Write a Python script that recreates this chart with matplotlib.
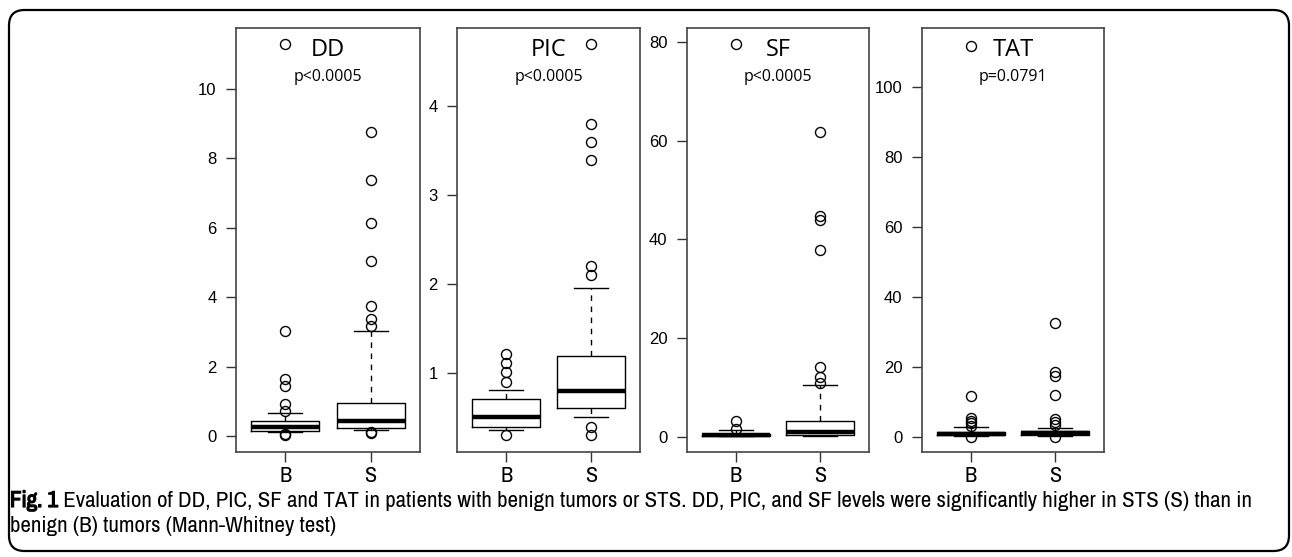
import matplotlib
matplotlib.use("Agg")
import matplotlib.pyplot as plt
from matplotlib import font_manager
from matplotlib import patheffects
from matplotlib.patches import FancyBboxPatch

# markers and groups
groups = ["B", "S"]
panels = ["DD", "PIC", "SF", "TAT"]
pvalues = ["p<0.0005", "p<0.0005", "p<0.0005", "p=0.0791"]

# box stats per panel: [whislo, q1, med, q3, whishi] for B and S
dd_b = [0.11, 0.15, 0.26, 0.43, 0.66]
dd_s = [0.17, 0.23, 0.43, 0.95, 3.03]
dd_b_out = [11.3, 3.03, 1.64, 1.45, 0.92, 0.72, 0.06, 0.03]
dd_s_out = [8.76, 7.38, 6.14, 5.04, 3.75, 3.37, 3.17, 0.12, 0.08]

pic_b = [0.36, 0.39, 0.51, 0.71, 0.81]
pic_s = [0.51, 0.61, 0.80, 1.19, 1.96]
pic_b_out = [1.21, 1.11, 1.01, 0.90, 0.30]
pic_s_out = [4.70, 3.80, 3.60, 3.39, 2.20, 2.10, 0.39, 0.30]

sf_b = [0.1, 0.2, 0.4, 0.6, 1.4]
sf_s = [0.2, 0.3, 1.0, 3.3, 10.6]
sf_b_out = [79.5, 3.25, 1.6]
sf_s_out = [61.7, 44.7, 43.9, 37.8, 14.2, 12.2, 11.0]

tat_b = [0.2, 0.5, 0.9, 1.4, 2.8]
tat_s = [0.3, 0.6, 1.2, 1.8, 2.6]
tat_b_out = [111.7, 11.7, 5.5, 4.7, 3.9, 3.2, 0.0]
tat_s_out = [32.6, 18.6, 17.4, 12.0, 5.1, 4.3, 3.4, 0.0]

ylims = [(-0.46, 11.76), (0.112, 4.876), (-3.05, 82.8), (-4.3, 116.9)]
yticks = [[0, 2, 4, 6, 8, 10], [1, 2, 3, 4], [0, 20, 40, 60, 80],
          [0, 20, 40, 60, 80, 100]]

stats_all = [(dd_b, dd_s, dd_b_out, dd_s_out),
             (pic_b, pic_s, pic_b_out, pic_s_out),
             (sf_b, sf_s, sf_b_out, sf_s_out),
             (tat_b, tat_s, tat_b_out, tat_s_out)]

caption_bold = "Fig. 1"
caption_1 = (" Evaluation of DD, PIC, SF and TAT in patients with benign tumors "
             "or STS. DD, PIC, and SF levels were significantly higher in STS (S) than in")
caption_2 = "benign (B) tumors (Mann-Whitney test)"

# look for a narrow / condensed face for the caption
narrow_fam, narrow_stretch = "DejaVu Sans", "normal"
for f in font_manager.fontManager.ttflist:
    if "Narrow" in f.name or "Condensed" in f.name:
        narrow_fam, narrow_stretch = f.name, "normal"
        break
else:
    for f in font_manager.fontManager.ttflist:
        if f.name == "DejaVu Sans" and "condensed" in str(f.stretch):
            narrow_stretch = "condensed"
            break

W, H = 1292, 557
fig = plt.figure(figsize=(W / 100, H / 100), dpi=100)

# panel frames in pixels (left, right), top 28, bottom 452
lefts = [236, 457, 687, 922]
rights = [420, 640, 869, 1104]
top, bottom = 28, 452

for i, name in enumerate(panels):
    ax = fig.add_axes([lefts[i] / W, (H - bottom) / H,
                       (rights[i] - lefts[i]) / W, (bottom - top) / H])
    b, s, bo, so = stats_all[i]
    bxstats = []
    for lab, st, fl in [("B", b, bo), ("S", s, so)]:
        bxstats.append(dict(label=lab, whislo=st[0], q1=st[1], med=st[2],
                            q3=st[3], whishi=st[4], fliers=fl))
    ax.bxp(bxstats, positions=[1, 2], widths=0.8, showfliers=True,
           boxprops=dict(color="black", linewidth=1.0),
           medianprops=dict(color="black", linewidth=3.2),
           whiskerprops=dict(color="black", linewidth=1.0, linestyle=(0, (4, 4))),
           capprops=dict(color="black", linewidth=1.0),
           flierprops=dict(marker="o", markerfacecolor="none",
                           markeredgecolor="black", markersize=7.2,
                           markeredgewidth=1.0))
    ax.set_xlim(0.42, 2.58)
    ax.set_ylim(*ylims[i])
    ax.set_yticks(yticks[i])
    ax.set_xticks([1, 2])
    ax.set_xticklabels(groups, family=narrow_fam, stretch=narrow_stretch,
                       fontsize=16)
    for lbl in ax.get_yticklabels():
        lbl.set_family(["Liberation Sans", "DejaVu Sans"])
        lbl.set_fontsize(12)
    ax.tick_params(axis="y", direction="out", length=7, width=1.0,
                   pad=7, color="#333333")
    ax.tick_params(axis="x", direction="out", length=7, width=1.0,
                   pad=3, color="#333333")
    for sp in ax.spines.values():
        sp.set_color("#444444")
        sp.set_linewidth(1.2)
    ax.text(0.5, 0.948, name, transform=ax.transAxes, ha="center",
            va="center", fontsize=17, family=["Open Sans", "DejaVu Sans"])
    ax.text(0.5, 0.884, pvalues[i], transform=ax.transAxes, ha="center",
            va="center", fontsize=11.5, family=["Open Sans", "DejaVu Sans"])

# rounded outer frame
frame = FancyBboxPatch((9 / W, 6 / H), 1280 / W, 541 / H,
                       boxstyle="round,pad=0,rounding_size=0.012",
                       transform=fig.transFigure, fill=False,
                       edgecolor="black", linewidth=1.6, mutation_aspect=W / H)
fig.patches.append(frame)

# caption, font size fitted so the first line ends near x=1262
y1 = (H - 501) / H
y2 = (H - 526) / H
fs = 13.5
t1 = fig.text(10 / W, y1, caption_bold, fontsize=fs, fontweight="bold",
              family=narrow_fam, stretch=narrow_stretch, va="center",
              path_effects=[patheffects.withStroke(linewidth=0.9,
                                                   foreground="black")])
t2 = fig.text(0, y1, caption_1, fontsize=fs, family=narrow_fam,
              stretch=narrow_stretch, va="center")
t3 = fig.text(10 / W, y2, caption_2, fontsize=fs, family=narrow_fam,
              stretch=narrow_stretch, va="center")
for _ in range(3):
    fig.canvas.draw()
    bb = t1.get_window_extent()
    t2.set_x(bb.x1 / W)
    fig.canvas.draw()
    end = t2.get_window_extent().x1
    fs = fs * (1250 - 10) / (end - 10)
    for t in (t1, t2, t3):
        t.set_fontsize(fs)
fig.canvas.draw()
t2.set_x(t1.get_window_extent().x1 / W)

fig.savefig("out.png", dpi=100)
